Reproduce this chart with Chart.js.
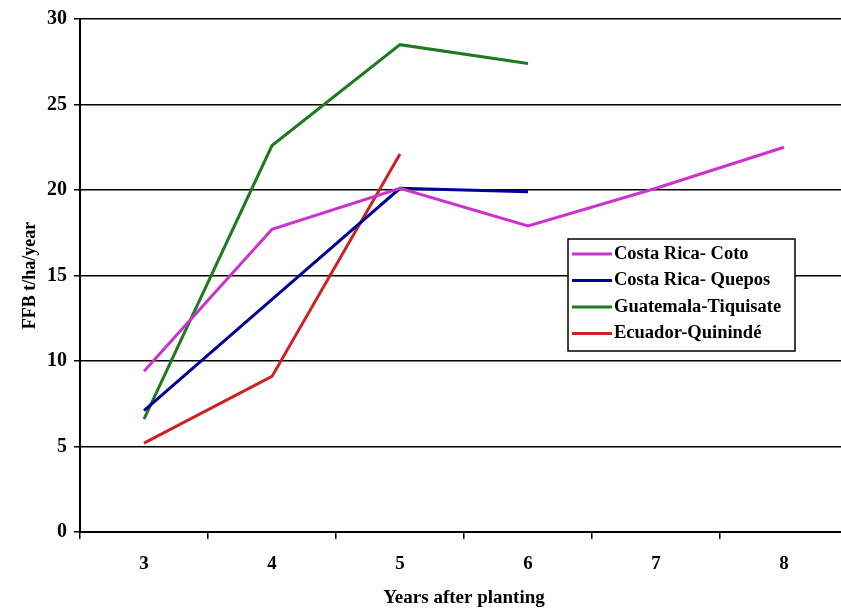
<!DOCTYPE html>
<html>
<head>
<meta charset="utf-8">
<script src="https://cdn.jsdelivr.net/npm/chart.js@4.4.0/dist/chart.umd.min.js"></script>
<style>
html, body { margin: 0; padding: 0; background: #fff; overflow: hidden; }
#wrap { width: 850px; height: 610px; }
</style>
</head>
<body>
<div id="wrap"><canvas id="grafico"></canvas></div>
<script>
// dados
const anos = ['3', '4', '5', '6', '7', '8'];
const costaRicaCoto = [9.4, 17.7, 20.1, 17.9, 20.1, 22.5];
const costaRicaQuepos = [7.1, 13.6, 20.1, 19.9, null, null];
const guatemalaTiquisate = [6.6, 22.6, 28.5, 27.4, null, null];
const ecuadorQuininde = [5.2, 9.1, 22.1, null, null, null];
const yMin = 0, yMax = 30, yStep = 5;

const serif = '"Liberation Serif", "Times New Roman", serif';

// legenda desenhada dentro da área do gráfico, com caixa
const legendaCaixa = {
    id: 'legendaCaixa',
    afterDraw(chart) {
        const ctx = chart.ctx;
        ctx.save();
        ctx.fillStyle = '#fff';
        ctx.fillRect(568, 239, 227, 112);
        ctx.strokeStyle = '#000';
        ctx.lineWidth = 1.5;
        ctx.strokeRect(568, 239, 227, 112);
        ctx.font = 'bold 18.5px ' + serif;
        ctx.textBaseline = 'middle';
        chart.data.datasets.forEach((d, i) => {
            const y = 254 + i * 26.5;
            ctx.strokeStyle = d.borderColor;
            ctx.lineWidth = 3;
            ctx.beginPath();
            ctx.moveTo(572, y);
            ctx.lineTo(612, y);
            ctx.stroke();
            ctx.fillStyle = '#000';
            ctx.fillText(d.label, 614, y);
        });
        ctx.restore();
    }
};

const serie = (label, data, cor) => ({
    label: label,
    data: data,
    borderColor: cor,
    backgroundColor: cor,
    borderWidth: 3,
    pointRadius: 0,
    tension: 0,
    fill: false
});

const grafico = new Chart(document.getElementById('grafico').getContext('2d'), {
    type: 'line',
    data: {
        labels: anos,
        datasets: [
            serie('Costa Rica- Coto', costaRicaCoto, '#CC33CC'),
            serie('Costa Rica- Quepos', costaRicaQuepos, '#000099'),
            serie('Guatemala-Tiquisate', guatemalaTiquisate, '#1F7A1F'),
            serie('Ecuador-Quinindé', ecuadorQuininde, '#CC2222')
        ]
    },
    options: {
        responsive: true,
        maintainAspectRatio: false,
        animation: false,
        layout: { padding: { top: 17, right: 2, left: 0, bottom: 0 } },
        plugins: {
            legend: { display: false },
            tooltip: { enabled: false }
        },
        scales: {
            x: {
                offset: true,
                grid: { offset: true, drawOnChartArea: false, drawTicks: true, tickLength: 7, color: '#000', lineWidth: 1.5 },
                border: { color: '#000', width: 2 },
                ticks: { color: '#000', padding: 14, font: { family: serif, size: 19, weight: 'bold' } },
                title: {
                    display: true,
                    text: 'Years after planting',
                    color: '#000',
                    font: { family: serif, size: 19, weight: 'bold' },
                    padding: { top: 2, bottom: 1 }
                },
                afterFit(s) { s.height = 78; }
            },
            y: {
                min: yMin,
                max: yMax,
                grid: { color: '#000', lineWidth: 1.5, tickLength: 6 },
                border: { color: '#000', width: 2 },
                ticks: { stepSize: yStep, color: '#000', padding: 7, font: { family: serif, size: 20, weight: 'bold' } },
                title: {
                    display: true,
                    text: 'FFB t/ha/year',
                    color: '#000',
                    font: { family: serif, size: 18, weight: 'bold' },
                    padding: { top: 20, bottom: 0 }
                },
                afterFit(s) { s.width = 80; }
            }
        }
    },
    plugins: [legendaCaixa]
});
</script>
</body>
</html>
